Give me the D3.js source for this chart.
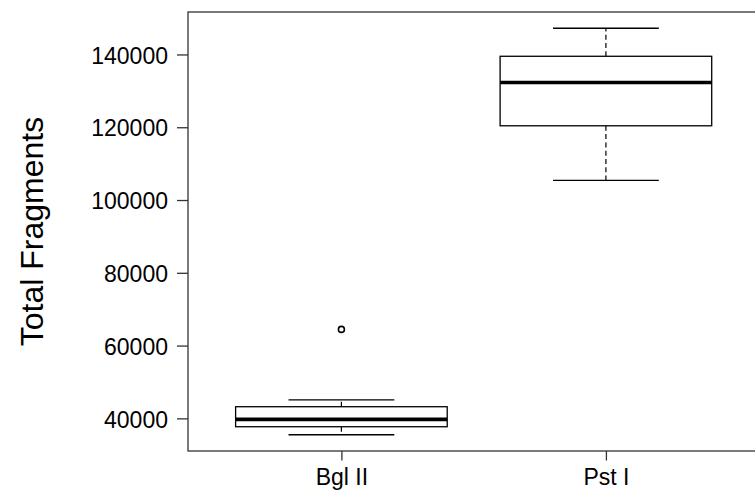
<!DOCTYPE html>
<html>
<head>
<meta charset="utf-8">
<script src="https://cdn.jsdelivr.net/npm/d3@7"></script>
<style>
  html, body { margin: 0; padding: 0; background: #fff; }
  svg { display: block; }
  text { font-family: "Liberation Sans", Arial, sans-serif; fill: #000; }
</style>
</head>
<body>
<svg id="chart" width="755" height="494"></svg>
<script>
// ---- data ----
const categories   = ["Bgl II", "Pst I"];
const whiskerLow   = [35500, 105400];
const q1           = [37700, 120400];
const median       = [39700, 132300];
const q3           = [43200, 139500];
const whiskerHigh  = [45100, 147200];
const outlierCat   = ["Bgl II"];
const outlierValue = [64450];
const yTickValues  = [40000, 60000, 80000, 100000, 120000, 140000];
const yTitle = "Total Fragments";

// ---- layout ----
const W = 755, H = 494;
const plotLeft = 188, plotTop = 12, plotBottom = 451;
const unitPx = 264.5;            // px per category step
const svg = d3.select("#chart");

// R-style 4% expansion
const lo = d3.min([...whiskerLow, ...outlierValue]);
const hi = d3.max([...whiskerHigh, ...outlierValue]);
const pad = (hi - lo) * 0.04;
const y = d3.scaleLinear().domain([lo - pad, hi + pad]).range([plotBottom, plotTop]);

const xMin = 0.5 - 0.08, xMax = categories.length + 0.5 + 0.08;
const x = d3.scaleLinear().domain([xMin, xMax])
  .range([plotLeft, plotLeft + (xMax - xMin) * unitPx]);
const pos = c => categories.indexOf(c) + 1;

const boxes = categories.map((c, i) => ({
  c, lo: whiskerLow[i], q1: q1[i], med: median[i], q3: q3[i], hi: whiskerHigh[i]
}));

const g = svg.append("g");

// whiskers (dashed)
g.selectAll(".wu").data(boxes).join("line")
  .attr("x1", d => x(pos(d.c))).attr("x2", d => x(pos(d.c)))
  .attr("y1", d => y(d.q3)).attr("y2", d => y(d.hi))
  .attr("stroke", "#000").attr("stroke-width", 1.2).attr("stroke-dasharray", "5,3.3");
g.selectAll(".wl").data(boxes).join("line")
  .attr("x1", d => x(pos(d.c))).attr("x2", d => x(pos(d.c)))
  .attr("y1", d => y(d.q1)).attr("y2", d => y(d.lo))
  .attr("stroke", "#000").attr("stroke-width", 1.2).attr("stroke-dasharray", "5,3.3");

// staples
["hi", "lo"].forEach(k => {
  g.selectAll(".s" + k).data(boxes).join("line")
    .attr("x1", d => x(pos(d.c) - 0.2)).attr("x2", d => x(pos(d.c) + 0.2))
    .attr("y1", d => y(d[k])).attr("y2", d => y(d[k]))
    .attr("stroke", "#000").attr("stroke-width", 1.3);
});

// boxes
g.selectAll(".box").data(boxes).join("rect")
  .attr("x", d => x(pos(d.c) - 0.4))
  .attr("width", d => x(pos(d.c) + 0.4) - x(pos(d.c) - 0.4))
  .attr("y", d => y(d.q3))
  .attr("height", d => y(d.q1) - y(d.q3))
  .attr("fill", "#fff").attr("stroke", "#000").attr("stroke-width", 1.3);

// medians
g.selectAll(".med").data(boxes).join("line")
  .attr("x1", d => x(pos(d.c) - 0.4)).attr("x2", d => x(pos(d.c) + 0.4))
  .attr("y1", d => y(d.med)).attr("y2", d => y(d.med))
  .attr("stroke", "#000").attr("stroke-width", 3.7);

// outliers
g.selectAll(".out").data(outlierValue.map((v, i) => ({ c: outlierCat[i], v })))
  .join("circle")
  .attr("cx", d => x(pos(d.c))).attr("cy", d => y(d.v)).attr("r", 3)
  .attr("fill", "none").attr("stroke", "#000").attr("stroke-width", 1.6);

// frame
svg.append("rect")
  .attr("x", x(xMin)).attr("y", y.range()[1])
  .attr("width", x(xMax) - x(xMin)).attr("height", y.range()[0] - y.range()[1])
  .attr("fill", "none").attr("stroke", "#333").attr("stroke-width", 1.3);

// y axis
const yAxis = svg.append("g").attr("transform", `translate(${plotLeft},0)`)
  .call(d3.axisLeft(y).tickValues(yTickValues).tickSize(11).tickPadding(9).tickFormat(d3.format("d")));
yAxis.select(".domain").remove();
yAxis.selectAll("line").attr("stroke", "#333").attr("stroke-width", 1.3);
yAxis.selectAll("text").attr("font-size", 23).attr("fill", "#000")
  .attr("font-family", "'Liberation Sans', Arial, sans-serif").attr("dy", "0.38em");

// x axis
const xAxis = svg.append("g").attr("transform", `translate(0,${plotBottom})`)
  .call(d3.axisBottom(x).tickValues(categories.map((c, i) => i + 1))
    .tickFormat(v => categories[v - 1]).tickSize(9.5).tickPadding(8.5));
xAxis.select(".domain").remove();
xAxis.selectAll("line").attr("stroke", "#333").attr("stroke-width", 1.3);
xAxis.selectAll("text").attr("font-size", 23).attr("fill", "#000")
  .attr("font-family", "'Liberation Sans', Arial, sans-serif");

// y title
svg.append("text")
  .attr("transform", `translate(43,${(plotTop + plotBottom) / 2}) rotate(-90)`)
  .attr("text-anchor", "middle").attr("font-size", 32)
  .text(yTitle);
</script>
</body>
</html>
